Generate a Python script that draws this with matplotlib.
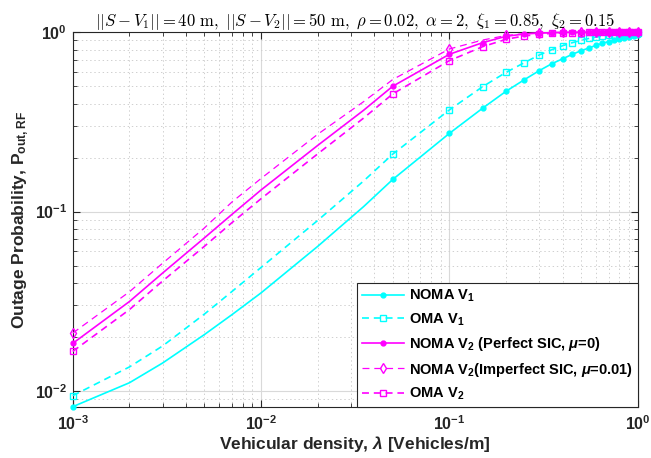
import matplotlib
matplotlib.use('Agg')
import matplotlib.pyplot as plt
from matplotlib.ticker import LogLocator, NullFormatter

plt.rcParams['font.family'] = ['Liberation Sans', 'DejaVu Sans']
plt.rcParams['font.weight'] = 'bold'
plt.rcParams['mathtext.fontset'] = 'custom'
plt.rcParams['mathtext.rm'] = 'Liberation Sans:bold'
plt.rcParams['mathtext.bf'] = 'Liberation Sans:bold'
plt.rcParams['mathtext.it'] = 'Liberation Sans:bold:italic'
plt.rcParams['mathtext.default'] = 'rm'
plt.rcParams['lines.scale_dashes'] = False

# vehicular density (x) and outage probabilities
lam = [0.001, 0.002, 0.003, 0.005, 0.007, 0.01, 0.02, 0.035, 0.05,
       0.1, 0.15, 0.2, 0.25, 0.3, 0.35, 0.4, 0.45, 0.5, 0.55, 0.6,
       0.65, 0.7, 0.75, 0.8, 0.85, 0.9, 0.95, 1.0]

noma_v1 = [0.00816, 0.0111, 0.0143, 0.0206, 0.0266, 0.0352, 0.064, 0.1065, 0.151,
           0.273, 0.377, 0.469, 0.544, 0.611, 0.668, 0.712, 0.754, 0.789, 0.817, 0.846,
           0.868, 0.888, 0.905, 0.92, 0.933, 0.945, 0.956, 0.965]

oma_v1 = [0.0094, 0.0136, 0.0178, 0.0268, 0.0358, 0.0488, 0.0893, 0.148, 0.209,
          0.369, 0.497, 0.598, 0.677, 0.747, 0.80, 0.842, 0.875, 0.903, 0.924, 0.94,
          0.952, 0.961, 0.968, 0.974, 0.978, 0.982, 0.985, 0.988]

noma_v2 = [0.0184, 0.0315, 0.0454, 0.0713, 0.0964, 0.132, 0.234, 0.367, 0.50,
           0.754, 0.875, 0.95, 0.978, 0.99, 0.995, 0.998, 0.999, 0.9995, 1.0, 1.0,
           1.0, 1.0, 1.0, 1.0, 1.0, 1.0, 1.0, 1.0]

noma_v2_imp = [0.021, 0.0357, 0.0515, 0.081, 0.113, 0.153, 0.27, 0.41, 0.545,
               0.807, 0.905, 0.96, 0.983, 0.993, 0.997, 0.999, 0.9995, 1.0, 1.0, 1.0,
               1.0, 1.0, 1.0, 1.0, 1.0, 1.0, 1.0, 1.0]

oma_v2 = [0.0166, 0.0284, 0.041, 0.064, 0.0867, 0.118, 0.21, 0.332, 0.453,
          0.695, 0.831, 0.914, 0.954, 0.975, 0.986, 0.992, 0.995, 0.997, 0.998, 0.999,
          0.9993, 0.9996, 0.9998, 1.0, 1.0, 1.0, 1.0, 1.0]

labels = ['NOMA V$_1$', 'OMA V$_1$', 'NOMA V$_2$ (Perfect SIC, $\\mathit{\\mu}$=0)',
          'NOMA V$_2$(Imperfect SIC, $\\mathit{\\mu}$=0.01)', 'OMA V$_2$']

mk_all = [0] + list(range(8, len(lam)))
mk_dia = [0] + list(range(9, len(lam), 2))

cyan = (0, 1, 1)
mag = (1, 0, 1)
dash = (0, (5, 3.5))

fig = plt.figure(figsize=(6.51, 4.58), dpi=100)
ax = fig.add_axes([0.1117, 0.1107, 0.8679, 0.8188])

ax.plot(lam, noma_v1, color=cyan, lw=1.2, marker='o', ms=3.5, mfc=cyan,
        markevery=mk_all, label=labels[0], clip_on=False, zorder=3)
ax.plot(lam, oma_v1, color=cyan, lw=1.2, ls=dash, marker='s', ms=4.5, mfc='none',
        markevery=mk_all, label=labels[1], clip_on=False, zorder=3)
ax.plot(lam, noma_v2, color=mag, lw=1.2, marker='o', ms=3.5, mfc=mag,
        markevery=mk_all, label=labels[2], clip_on=False, zorder=3)
ax.plot(lam, noma_v2_imp, color=mag, lw=0.9, ls=dash, marker='d', ms=5, mfc='none',
        markevery=mk_dia, label=labels[3], clip_on=False, zorder=3)
ax.plot(lam, oma_v2, color=mag, lw=1.2, ls=dash, marker='s', ms=4.5, mfc='none',
        markevery=mk_all, label=labels[4], clip_on=False, zorder=3)

ax.set_xscale('log')
ax.set_yscale('log')
ax.set_xlim(1e-3, 1)
ax.set_ylim(0.0081, 1)
ax.xaxis.set_minor_locator(LogLocator(base=10, subs=range(2, 10), numticks=20))
ax.yaxis.set_minor_locator(LogLocator(base=10, subs=range(2, 10), numticks=20))
ax.xaxis.set_minor_formatter(NullFormatter())
ax.yaxis.set_minor_formatter(NullFormatter())

ax.grid(True, which='major', color='#d9d9d9', lw=0.8, ls='-')
ax.grid(True, which='minor', color='#cfcfcf', lw=0.7, ls=(0, (1, 2)))
ax.set_axisbelow(True)

ax.tick_params(which='both', direction='in', top=True, right=True,
               colors='#262626', labelsize=11.5)
ax.tick_params(which='major', length=5, width=0.8)
ax.tick_params(which='minor', length=3, width=0.6)
ax.tick_params(axis='x', pad=5)
ax.tick_params(axis='y', pad=4)
for s in ax.spines.values():
    s.set_color('#262626')
    s.set_linewidth(0.8)

ax.set_xlabel('Vehicular density, $\\mathit{\\lambda}$ [Vehicles/m]', fontsize=12.5,
              fontweight='bold', color='#262626', labelpad=1)
ax.set_ylabel('Outage Probability, P$_{\\mathrm{out,RF}}$', fontsize=12.5,
              fontweight='bold', color='#262626', labelpad=3)

ax.set_title(r'$||\mathit{S}-\mathit{V}_1||\mathrm{=40\ m,}\ ||\mathit{S}-\mathit{V}_2||'
             r'\mathrm{=50\ m,}\ \rho\mathrm{=0.02,}'
             r'\ \alpha\mathrm{=2,}\ \xi_1\mathrm{=0.85,}\ \xi_2\mathrm{=0.15}$',
             fontsize=12, math_fontfamily='cm', pad=3, color='black')

leg = ax.legend(loc='lower right', borderaxespad=0, fontsize=10.5, frameon=True,
                fancybox=False, edgecolor='#262626', framealpha=1, numpoints=1,
                handlelength=2.9, labelspacing=0.5, borderpad=0.35, handletextpad=0.3)
leg.get_frame().set_linewidth(0.8)
leg.set_zorder(5)

fig.savefig('out.png', dpi=100)
